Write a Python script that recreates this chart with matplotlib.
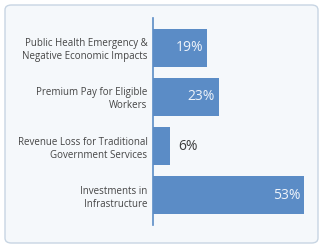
import matplotlib
matplotlib.use("Agg")
import matplotlib.pyplot as plt
from matplotlib.patches import FancyBboxPatch

categories = [
    "Public Health Emergency &\nNegative Economic Impacts",
    "Premium Pay for Eligible\nWorkers",
    "Revenue Loss for Traditional\nGovernment Services",
    "Investments in\nInfrastructure",
]
shares = [19, 23, 6, 53]

BAR = "#5b8cc6"
BG = "#f5f8fb"
plt.rcParams["font.family"] = ["Open Sans", "DejaVu Sans"]

fig = plt.figure(figsize=(3.2, 2.47), dpi=100)
fig.patch.set_facecolor("white")
# rounded card behind the chart
card = FancyBboxPatch((5 / 320, 4 / 247), 313 / 320, 238 / 247,
                      boxstyle="round,pad=0,rounding_size=0.02",
                      transform=fig.transFigure, facecolor=BG,
                      edgecolor="#c8d5e3", linewidth=1.0, zorder=-10)
fig.patches.append(card)

ax = fig.add_axes([153 / 320, 22 / 247, 157 / 320, 207 / 247])
ax.set_zorder(5)
ax.set_facecolor("none")
ypos = list(range(len(categories)))
ax.barh(ypos, shares, height=0.78, color=BAR)
ax.set_ylim(len(categories) - 1 + 0.61, -0.61)
ax.set_xlim(0, 55)

for y, v in zip(ypos, shares):
    if v >= 10:
        ax.text(v - 1.3, y, f"{v}%", ha="right", va="center",
                color="#eef3fa", fontsize=10)
    else:
        ax.text(v + 3, y, f"{v}%", ha="left", va="center",
                color="#3c3c3c", fontsize=10)

ax.set_yticks(ypos)
ax.set_yticklabels(categories, fontsize=7.05, color="#454545",
                   linespacing=1.25)
ax.tick_params(axis="y", length=0, pad=4)
ax.set_xticks([])
for s in ("top", "right", "bottom"):
    ax.spines[s].set_visible(False)
ax.spines["left"].set_color(BAR)
ax.spines["left"].set_linewidth(1.2)

fig.savefig("out.png", dpi=100)
